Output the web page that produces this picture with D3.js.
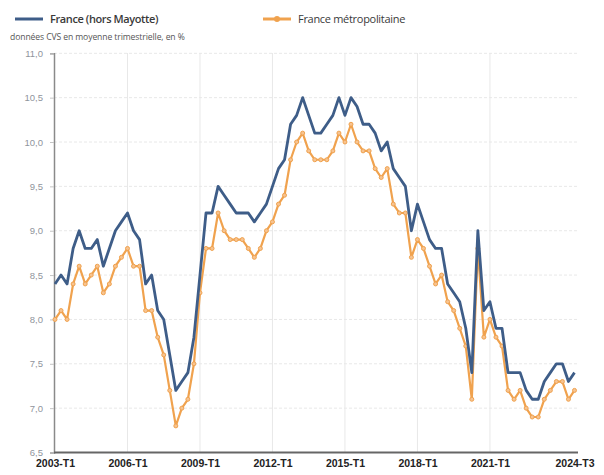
<!DOCTYPE html>
<html><head><meta charset="utf-8">
<script src="https://cdn.jsdelivr.net/npm/d3@7"></script>
<style>
html,body{margin:0;padding:0;background:#fff;}
svg{display:block;font-family:"Open Sans",sans-serif;}
</style></head>
<body>
<svg id="c" width="604" height="475"></svg>
<script>
const seriesNames = ["France (hors Mayotte)", "France métropolitaine"];
const subtitle = "données CVS en moyenne trimestrielle, en %";
// quarterly values from 2003-T1 to 2024-T3 (87 quarters)
const franceHorsMayotte = [
 8.4,8.5,8.4,8.8, 9.0,8.8,8.8,8.9, 8.6,8.8,9.0,9.1, 9.2,9.0,8.9,8.4,
 8.5,8.1,8.0,7.6, 7.2,7.3,7.4,7.8, 8.5,9.2,9.2,9.5, 9.4,9.3,9.2,9.2,
 9.2,9.1,9.2,9.3, 9.5,9.7,9.8,10.2, 10.3,10.5,10.3,10.1, 10.1,10.2,10.3,10.5,
 10.3,10.5,10.4,10.2, 10.2,10.1,9.9,10.0, 9.7,9.6,9.5,9.0, 9.3,9.1,8.9,8.8,
 8.8,8.4,8.3,8.2, 7.9,7.4,9.0,8.1, 8.2,7.9,7.9,7.4, 7.4,7.4,7.2,7.1,
 7.1,7.3,7.4,7.5, 7.5,7.3,7.4
];
const franceMetropolitaine = [
 8.0,8.1,8.0,8.4, 8.6,8.4,8.5,8.6, 8.3,8.4,8.6,8.7, 8.8,8.6,8.6,8.1,
 8.1,7.8,7.6,7.2, 6.8,7.0,7.1,7.5, 8.3,8.8,8.8,9.2, 9.0,8.9,8.9,8.9,
 8.8,8.7,8.8,9.0, 9.1,9.3,9.4,9.8, 10.0,10.1,9.9,9.8, 9.8,9.8,9.9,10.1,
 10.0,10.2,10.0,9.9, 9.9,9.7,9.6,9.7, 9.3,9.2,9.2,8.7, 8.9,8.8,8.6,8.4,
 8.5,8.2,8.1,7.9, 7.7,7.1,8.8,7.8, 8.0,7.8,7.7,7.2, 7.1,7.2,7.0,6.9,
 6.9,7.1,7.2,7.3, 7.3,7.1,7.2
];
const xTickIndex = [0,12,24,36,48,60,72,86];
const xTickLabels = ["2003-T1","2006-T1","2009-T1","2012-T1","2015-T1","2018-T1","2021-T1","2024-T3"];
const yTicks = [6.5,7.0,7.5,8.0,8.5,9.0,9.5,10.0,10.5,11.0];

const svg = d3.select("#c");
const x = d3.scaleLinear().domain([0, 86]).range([55, 574.5]);
const y = d3.scaleLinear().domain([6.5, 11]).range([452.5, 53.3]);
const blue = "#3e5d88", orange = "#f0a24e";

// grid
const g = svg.append("g");
g.selectAll("line.hg").data(yTicks.slice(1)).join("line")
  .attr("x1", 54).attr("x2", 578).attr("y1", d=>y(d)).attr("y2", d=>y(d))
  .attr("stroke", "#e8e8e8").attr("stroke-width", 1).attr("stroke-dasharray","3,2");
g.selectAll("line.vg").data(xTickIndex.slice(1,7)).join("line")
  .attr("x1", d=>x(d)).attr("x2", d=>x(d)).attr("y1", 53).attr("y2", 452)
  .attr("stroke", "#e8e8e8").attr("stroke-width", 1);

// y axis
const yAxis = d3.axisLeft(y).tickValues(yTicks).tickSize(4)
  .tickFormat(d => d3.format(".1f")(d).replace(".", ","));
const ya = svg.append("g").attr("transform","translate(54,0)").call(yAxis);
ya.select(".domain").attr("stroke","#8a8a8a").attr("stroke-width",1.5);
ya.selectAll(".tick line").attr("stroke","#c4c4c4");
ya.selectAll(".tick text").attr("fill","#8f949c").attr("font-size",9.5).attr("x",-11);

// x axis
const xAxis = d3.axisBottom(x).tickValues(xTickIndex).tickSize(0)
  .tickFormat((d,i) => xTickLabels[i]);
const xa = svg.append("g").attr("transform","translate(0,452.5)").call(xAxis);
xa.select(".domain").attr("stroke","#666").attr("stroke-width",2).attr("d","M54,0H578");
xa.selectAll(".tick text").attr("fill","#222").attr("font-size",10.5).attr("font-weight",600).attr("dy","1.1em");

// lines
const line = d3.line().x((d,i)=>x(i)).y(d=>y(d));
svg.append("path").datum(franceMetropolitaine).attr("d", line)
  .attr("fill","none").attr("stroke",orange).attr("stroke-width",2.2).attr("stroke-linejoin","round");
svg.append("g").selectAll("circle").data(franceMetropolitaine).join("circle")
  .attr("cx",(d,i)=>x(i)).attr("cy",d=>y(d)).attr("r",2)
  .attr("fill","#f7c390").attr("stroke",orange).attr("stroke-width",1);
svg.append("path").datum(franceHorsMayotte).attr("d", line)
  .attr("fill","none").attr("stroke",blue).attr("stroke-width",2.8).attr("stroke-linejoin","round");

// legend
const leg = svg.append("g");
leg.append("line").attr("x1",15).attr("x2",43).attr("y1",19).attr("y2",19)
  .attr("stroke",blue).attr("stroke-width",3);
leg.append("text").attr("x",50).attr("y",23).text(seriesNames[0])
  .attr("font-size",11).attr("font-weight",600).attr("fill","#3a3a3a").attr("letter-spacing","-0.4");
leg.append("line").attr("x1",263).attr("x2",291).attr("y1",19).attr("y2",19)
  .attr("stroke",orange).attr("stroke-width",3);
leg.append("circle").attr("cx",277).attr("cy",19).attr("r",3).attr("fill",orange);
leg.append("text").attr("x",298).attr("y",23).text(seriesNames[1])
  .attr("font-size",11).attr("font-weight",400).attr("fill","#3a3a3a").attr("letter-spacing","-0.3");
svg.append("text").attr("x",10).attr("y",40).text(subtitle)
  .attr("font-size",8.6).attr("fill","#555").attr("letter-spacing","-0.1");
</script>
</body></html>
